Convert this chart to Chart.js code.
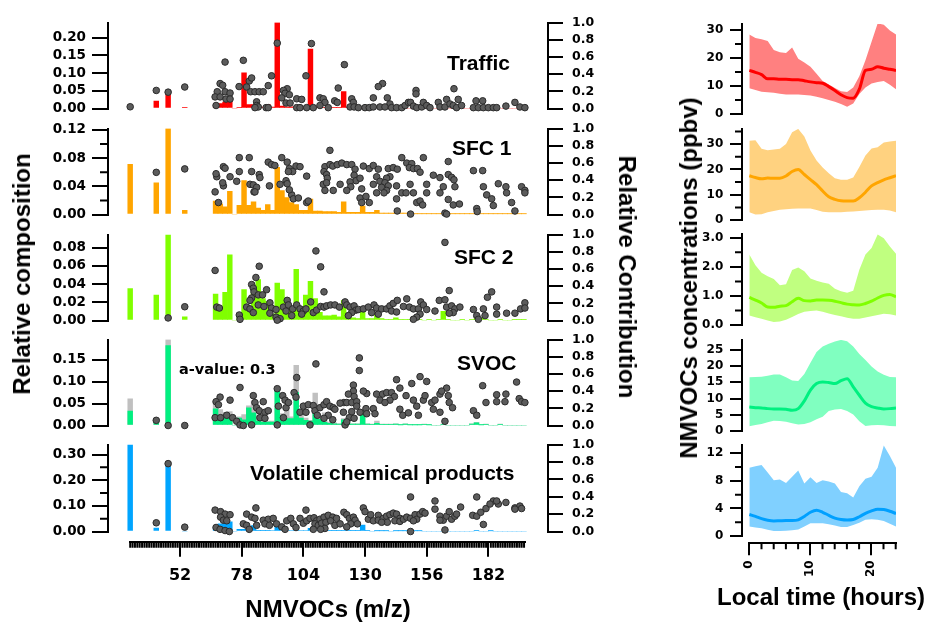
<!DOCTYPE html>
<html>
<head>
<meta charset="utf-8">
<script src="https://cdn.jsdelivr.net/npm/chart.js@4.4.1/dist/chart.umd.min.js"></script>
<style>
  html, body { margin: 0; padding: 0; background: #fff; }
  #wrap { position: relative; width: 925px; height: 623px; overflow: hidden; background: #fff; }
  #wrap canvas { position: absolute; }
  .lbl { position: absolute; font-family: "Liberation Sans", Arial, sans-serif; font-weight: bold;
         color: #000; white-space: nowrap; line-height: 1; }
</style>
</head>
<body>
<div id="wrap"></div>
<script>
// ---------- Source profiles: m/z of the bars and relative composition per source ----------
const barMz = [
  31, 42, 47, 54, 67, 69, 71, 73, 75, 77,
  79, 81, 83, 85, 87, 89, 91, 93, 95, 97,
  99, 101, 103, 105, 107, 109, 111, 113, 115, 117,
  119, 121, 123, 125, 127, 129, 131, 133, 135, 137,
  139, 141, 143, 145, 147, 149, 151, 153, 155, 157,
  159, 161, 163, 165, 167, 169, 171, 173, 175, 177,
  179, 181, 183, 185, 187, 189, 191, 193, 195, 197
];
const trafficComp = [
  0.010, 0.021, 0.043, 0.003, 0.003, 0.014, 0.018, 0.025, 0, 0.002,
  0.101, 0.011, 0.011, 0.005, 0.004, 0.012, 0.004, 0.243, 0.007, 0.005,
  0.005, 0.004, 0.004, 0.003, 0.168, 0.004, 0.003, 0.002, 0.002, 0.002,
  0.002, 0.048, 0.002, 0.001, 0.001, 0.001, 0.001, 0.001, 0.004, 0.003,
  0.001, 0, 0, 0, 0, 0, 0, 0, 0, 0,
  0, 0, 0, 0, 0, 0, 0, 0, 0, 0,
  0, 0, 0, 0, 0, 0, 0, 0, 0, 0
];
const sfc1Comp = [
  0.071, 0.045, 0.122, 0.006, 0.019, 0.015, 0.011, 0.033, 0, 0.013,
  0.048, 0.013, 0.018, 0.009, 0.006, 0.014, 0.006, 0.067, 0.034, 0.024,
  0.017, 0.014, 0.006, 0.006, 0.022, 0.005, 0.005, 0.004, 0.004, 0.004,
  0.003, 0.018, 0.003, 0.003, 0.003, 0.012, 0.003, 0.003, 0.006, 0.002,
  0.002, 0.002, 0.002, 0.002, 0.002, 0.002, 0.001, 0.001, 0.001, 0.001,
  0.001, 0.001, 0.001, 0.001, 0.001, 0.001, 0.001, 0.001, 0.001, 0.001,
  0.001, 0.001, 0.001, 0.001, 0.001, 0.001, 0.001, 0.001, 0.001, 0.001
];
const sfc2Comp = [
  0.035, 0.028, 0.094, 0.004, 0.029, 0.015, 0.031, 0.072, 0, 0.003,
  0.034, 0.012, 0.031, 0.045, 0.024, 0.021, 0.007, 0.041, 0.034, 0.022,
  0.014, 0.056, 0.011, 0.028, 0.043, 0.024, 0.009, 0.005, 0.005, 0.006,
  0.004, 0.022, 0.003, 0.003, 0.002, 0.014, 0.002, 0.002, 0.008, 0.002,
  0.001, 0.001, 0.003, 0.001, 0.001, 0.001, 0, 0.001, 0, 0.001,
  0, 0.001, 0.010, 0.001, 0, 0, 0.001, 0, 0.001, 0.002,
  0.003, 0.001, 0, 0, 0.001, 0, 0, 0.001, 0.001, 0.001
];
const svocComp = [
  0.033, 0.007, 0.182, 0, 0.038, 0.022, 0.022, 0.020, 0, 0.017,
  0.013, 0.040, 0.029, 0.010, 0.008, 0.008, 0.008, 0.082, 0.023, 0.016,
  0.016, 0.075, 0.017, 0.012, 0.010, 0.039, 0.014, 0.007, 0.005, 0.004,
  0.003, 0.013, 0.003, 0.003, 0.003, 0.032, 0.003, 0.002, 0.005, 0.002,
  0.002, 0.002, 0.003, 0.001, 0.003, 0.001, 0.001, 0.001, 0.002, 0.001,
  0, 0, 0.002, 0, 0, 0, 0, 0, 0.003, 0.006,
  0.001, 0.002, 0, 0, 0.002, 0, 0, 0, 0, 0
];
// SVOC profile without the a-value correction (grey, behind)
const svocCompRaw = [
  0.061, 0.010, 0.196, 0, 0.056, 0.036, 0.030, 0.032, 0, 0.020,
  0.025, 0.045, 0.056, 0.022, 0.012, 0.010, 0.010, 0.084, 0.027, 0.034,
  0.020, 0.137, 0.024, 0.017, 0.012, 0.074, 0.020, 0.029, 0.008, 0.006,
  0.004, 0.016, 0.004, 0.004, 0.004, 0.036, 0.004, 0.003, 0.010, 0.003,
  0.003, 0.003, 0.004, 0.002, 0.004, 0.002, 0.002, 0.002, 0.003, 0.002,
  0, 0, 0.003, 0, 0, 0, 0, 0, 0.004, 0.007,
  0.002, 0.003, 0, 0, 0.003, 0, 0, 0, 0, 0
];
const vcpComp = [
  0.338, 0.013, 0.264, 0, 0.015, 0.030, 0.038, 0.038, 0, 0.008,
  0.008, 0.010, 0.023, 0.005, 0.005, 0.005, 0.004, 0.028, 0.004, 0.004,
  0.004, 0.004, 0.004, 0.004, 0.012, 0.004, 0.003, 0.003, 0.003, 0.003,
  0.003, 0.003, 0.003, 0.003, 0.003, 0.025, 0.003, 0, 0.002, 0.002,
  0.002, 0, 0.002, 0.002, 0.002, 0.002, 0.002, 0.002, 0, 0,
  0, 0, 0, 0, 0, 0, 0, 0, 0, 0.003,
  0, 0, 0.002, 0, 0, 0, 0, 0, 0, 0
];

// ---------- Relative contribution of each source to every ion: [m/z, fraction] ----------
const trafficContrib = [
  [31,0.02],[42,0.21],[47,0.19],[54,0.25],[71.0,0.54],[78.7,0.56],[90.6,0.38],[93.0,0.76],[107.4,0.755],[121.3,0.51],
  [105.1,0.38],[137.4,0.29],[135.6,0.255],[151.5,0.21],[151.5,0.17],[167.5,0.23],[68.9,0.29],[70.0,0.27],[67.7,0.195],[71.0,0.195],
  [73.1,0.18],[66.8,0.135],[68.9,0.135],[71.4,0.11],[73.1,0.11],[67.2,0.035],[76.9,0.255],[81.2,0.32],[82.2,0.355],[80.1,0.25],
  [81.8,0.195],[83.6,0.195],[85.4,0.195],[87.1,0.195],[89.2,0.266],[97.2,0.23],[95.6,0.21],[96.3,0.177],[94.9,0.124],[98.1,0.16],
  [84.3,0.078],[84.3,0.035],[85.0,0.018],[83.6,0.01],[88.3,0.01],[89.2,0.01],[96.7,0.064],[98.4,0.064],[101.2,0.113],[103.3,0.106],
  [101.2,0.01],[102.6,0.01],[105.4,0.01],[108.2,0.01],[111.0,0.124],[112.4,0.113],[113.1,0.071],[111.0,0.035],[114.5,0.01],[117.2,0.089],
  [118.7,0.238],[118.3,0.071],[124.4,0.113],[125.1,0.071],[123.7,0.018],[125.4,0.018],[127.2,0.01],[130.0,0.01],[131.8,0.01],[133.5,0.124],
  [133.5,0.018],[136.3,0.018],[139.4,0.124],[140.5,0.053],[138.4,0.018],[141.2,0.01],[143.3,0.01],[145.5,0.01],[146.9,0.035],[148.3,0.071],
  [149.2,0.071],[150.4,0.028],[151.8,0.01],[153.9,0.018],[154.6,0.071],[156.0,0.035],[157.4,0.01],[160.9,0.071],[161.6,0.018],[163.7,0.018],
  [164.4,0.106],[165.8,0.053],[167.2,0.035],[168.6,0.01],[169.3,0.106],[170.7,0.035],[175.7,0.01],[177.8,0.01],[179.9,0.01],[182.0,0.01],
  [184.1,0.01],[185.5,0.01],[176.8,0.089],[179.6,0.089],[189.4,0.028],[193.2,0.071],[195.3,0.018],[197.4,0.01]
];
const sfc1Contrib = [
  [42,0.49],[54,0.53],[115.2,0.746],[77.0,0.661],[81.2,0.661],[94.9,0.661],[89.2,0.609],[97.2,0.609],[145.5,0.661],[154.6,0.661],
  [165.1,0.616],[70.3,0.556],[71.0,0.538],[77.0,0.499],[82.2,0.499],[85.4,0.464],[90.6,0.58],[92.0,0.57],[98.1,0.534],[100.9,0.563],
  [102.6,0.556],[99.5,0.499],[97.7,0.499],[105.4,0.446],[113.1,0.556],[115.2,0.58],[116.4,0.563],[118.3,0.58],[120.2,0.598],[122.3,0.58],
  [124.4,0.58],[125.8,0.527],[112.7,0.499],[113.8,0.464],[114.1,0.422],[125.4,0.457],[126.2,0.393],[127.9,0.422],[129.3,0.563],[131.8,0.534],
  [133.5,0.57],[135.6,0.527],[139.8,0.534],[141.9,0.545],[143.6,0.527],[147.6,0.598],[149.7,0.591],[148.7,0.545],[150.4,0.534],[152.1,0.534],
  [153.2,0.492],[140.5,0.439],[139.1,0.422],[143.3,0.333],[134.9,0.439],[136.3,0.386],[138.4,0.369],[139.8,0.333],[137.0,0.316],[139.1,0.28],
  [133.5,0.351],[67.5,0.439],[73.1,0.439],[85.7,0.429],[75.9,0.386],[81.5,0.351],[82.9,0.344],[84.3,0.316],[83.2,0.263],[89.7,0.333],
  [94.2,0.351],[96.7,0.393],[97.2,0.358],[99.1,0.228],[98.1,0.287],[99.8,0.182],[101.9,0.192],[105.4,0.139],[106.1,0.157],[112.4,0.351],
  [113.8,0.369],[113.1,0.28],[116.6,0.28],[119.5,0.351],[123.7,0.379],[124.0,0.323],[122.3,0.28],[128.6,0.298],[127.9,0.192],[130.4,0.21],
  [131.8,0.139],[128.6,0.139],[134.9,0.252],[138.0,0.252],[143.3,0.182],[145.5,0.252],[147.3,0.252],[149.0,0.351],[150.4,0.252],[151.8,0.139],
  [153.2,0.157],[154.3,0.111],[156.0,0.351],[158.8,0.457],[161.6,0.429],[165.1,0.464],[166.5,0.432],[167.5,0.404],[163.0,0.323],[161.6,0.252],
  [167.9,0.323],[156.0,0.252],[165.1,0.175],[167.2,0.111],[169.8,0.122],[175.7,0.51],[179.6,0.51],[179.9,0.323],[181.3,0.228],[183.4,0.182],
  [184.1,0.104],[186.2,0.358],[189.4,0.323],[189.7,0.252],[191.8,0.139],[196.0,0.323],[197.4,0.28],[197.4,0.252],[143.6,0.041],[149.2,0.005],
  [163.7,0.016],[164.4,0.005],[177.1,0.069],[177.3,0.034],[193.2,0.041],[66.8,0.263],[68.2,0.139],[70.3,0.333],[83.6,0.263],[67.2,0.474],
  [70.0,0.369]
];
const sfc2Contrib = [
  [47,0.03],[54,0.16],[163.7,0.908],[109.3,0.809],[85.4,0.631],[111.3,0.624],[66.8,0.582],[84.0,0.5],[112.7,0.333],[165.5,0.348],
  [183.4,0.333],[181.6,0.27],[67.5,0.156],[68.6,0.145],[82.2,0.418],[82.9,0.376],[83.2,0.333],[85.0,0.298],[82.2,0.262],[81.5,0.234],
  [88.5,0.358],[86.8,0.298],[89.9,0.206],[85.0,0.181],[87.4,0.163],[80.1,0.156],[77.0,0.064],[77.3,0.014],[81.5,0.135],[82.9,0.092],
  [90.6,0.145],[89.9,0.085],[92.5,0.128],[92.5,0.039],[94.2,0.021],[95.6,0.156],[96.7,0.11],[97.2,0.234],[97.7,0.181],[99.5,0.135],
  [99.1,0.057],[101.2,0.181],[102.6,0.135],[104.0,0.11],[105.1,0.135],[107.1,0.216],[103.3,0.074],[108.2,0.092],[109.6,0.121],[111.3,0.163],
  [112.7,0.156],[113.8,0.17],[115.5,0.181],[117.3,0.181],[119.2,0.156],[121.6,0.216],[122.3,0.181],[123.7,0.156],[125.4,0.17],[126.2,0.121],
  [124.4,0.092],[123.0,0.057],[127.2,0.128],[129.3,0.135],[131.4,0.156],[133.8,0.181],[134.9,0.145],[132.8,0.092],[135.6,0.074],[137.0,0.135],
  [139.1,0.135],[140.5,0.17],[141.9,0.199],[143.6,0.234],[141.2,0.11],[143.3,0.099],[146.2,0.163],[147.6,0.252],[148.7,0.156],[150.4,0.135],
  [152.5,0.135],[153.5,0.216],[154.6,0.181],[156.0,0.128],[153.2,0.074],[151.8,0.039],[150.4,0.014],[159.5,0.11],[161.3,0.234],[163.7,0.241],
  [164.4,0.156],[166.5,0.17],[167.9,0.135],[167.2,0.092],[170.0,0.156],[165.5,0.085],[175.7,0.128],[177.1,0.057],[179.9,0.135],[180.6,0.057],
  [177.8,0.014],[185.5,0.156],[185.5,0.074],[189.7,0.085],[193.2,0.085],[195.6,0.135],[197.4,0.206],[197.4,0.145],[93.0,0.004]
];
const svocContrib = [
  [42,0.06],[47,0.0],[54,0.0],[127.6,0.786],[127.6,0.639],[109.3,0.716],[164.4,0.435],[179.6,0.463],[193.9,0.505],[143.3,0.533],
  [153.2,0.568],[149.7,0.488],[156.0,0.512],[144.7,0.435],[147.3,0.347],[134.9,0.365],[137.4,0.365],[139.1,0.382],[141.2,0.382],[142.4,0.337],
  [136.3,0.295],[140.5,0.295],[138.4,0.267],[130.7,0.372],[129.3,0.4],[125.1,0.47],[125.1,0.4],[123.0,0.365],[125.4,0.337],[121.1,0.267],
  [122.3,0.267],[119.5,0.26],[124.4,0.267],[126.5,0.277],[126.5,0.225],[120.9,0.154],[124.4,0.161],[127.9,0.154],[130.4,0.196],[133.5,0.196],
  [134.2,0.137],[130.7,0.137],[123.4,0.091],[125.4,0.084],[144.7,0.189],[145.9,0.119],[148.3,0.147],[152.5,0.119],[151.8,0.225],[150.4,0.295],
  [154.6,0.295],[155.3,0.347],[158.1,0.267],[159.5,0.295],[161.6,0.365],[162.3,0.4],[165.1,0.347],[165.5,0.267],[166.9,0.207],[158.8,0.189],
  [161.6,0.154],[163.7,0.049],[175.7,0.172],[177.1,0.119],[181.0,0.267],[185.5,0.277],[185.5,0.358],[189.0,0.277],[189.4,0.365],[195.0,0.312],
  [196.0,0.277],[197.4,0.267],[77.3,0.442],[68.9,0.33],[67.2,0.277],[68.2,0.242],[73.1,0.295],[66.8,0.091],[69.1,0.091],[71.7,0.119],
  [74.2,0.091],[75.9,0.049],[77.3,0.007],[78.7,0.0],[82.2,0.007],[82.9,0.347],[83.6,0.267],[84.3,0.207],[85.4,0.172],[87.1,0.277],
  [87.8,0.154],[89.2,0.172],[85.7,0.091],[87.8,0.084],[93.0,0.428],[95.3,0.347],[93.5,0.225],[96.3,0.295],[96.7,0.207],[97.7,0.267],
  [95.6,0.091],[100.1,0.382],[100.9,0.33],[101.2,0.558],[102.6,0.154],[104.0,0.225],[105.1,0.154],[106.1,0.242],[108.2,0.232],[108.9,0.172],
  [109.9,0.119],[111.0,0.207],[112.7,0.242],[113.8,0.277],[115.2,0.225],[116.6,0.207],[114.5,0.119],[112.7,0.084],[116.4,0.067],[117.3,0.189],
  [93.0,0.007],[106.8,0.007],[121.6,0.007],[122.3,0.042]
];
const vcpContrib = [
  [42,0.10],[47,0.78],[54,0.05],[149.2,0.397],[177.1,0.397],[159.5,0.351],[184.1,0.351],[186.2,0.316],[189.4,0.334],[193.2,0.271],
  [195.3,0.292],[196.0,0.264],[84.0,0.271],[66.8,0.246],[69.1,0.228],[71.0,0.2],[69.1,0.165],[73.1,0.193],[70.3,0.13],[71.7,0.123],
  [67.2,0.046],[68.9,0.025],[71.0,0.011],[72.8,0.0],[80.1,0.2],[82.2,0.165],[83.6,0.151],[78.7,0.088],[80.1,0.071],[84.3,0.071],
  [81.2,0.025],[87.1,0.13],[89.2,0.141],[91.3,0.151],[87.8,0.088],[89.7,0.071],[92.7,0.088],[94.9,0.053],[97.0,0.123],[98.7,0.151],
  [96.3,0.025],[99.8,0.088],[100.9,0.046],[102.6,0.151],[105.1,0.246],[104.0,0.095],[105.4,0.123],[106.8,0.151],[108.5,0.158],[109.6,0.123],
  [111.0,0.141],[112.7,0.165],[114.5,0.186],[116.4,0.165],[118.0,0.151],[108.9,0.088],[110.3,0.071],[111.7,0.095],[113.5,0.106],[115.5,0.123],
  [117.3,0.071],[113.1,0.035],[111.3,0.025],[108.2,0.025],[119.5,0.088],[121.1,0.221],[122.3,0.193],[123.4,0.151],[125.1,0.165],[125.8,0.13],
  [124.0,0.088],[122.3,0.053],[126.8,0.088],[129.3,0.271],[130.0,0.228],[131.4,0.141],[133.5,0.123],[132.4,0.193],[135.6,0.186],[135.6,0.13],
  [137.7,0.151],[139.1,0.176],[140.5,0.193],[141.9,0.211],[143.3,0.2],[144.7,0.151],[142.6,0.123],[139.4,0.106],[137.0,0.106],[144.7,0.116],
  [146.2,0.141],[147.6,0.165],[149.2,0.151],[151.1,0.193],[151.8,0.141],[153.2,0.2],[154.3,0.228],[155.3,0.211],[150.4,0.123],[159.5,0.257],
  [161.6,0.176],[163.0,0.13],[164.4,0.176],[165.5,0.228],[166.5,0.141],[167.9,0.176],[168.6,0.2],[170.3,0.281],[161.6,0.13],[163.7,0.018],
  [175.4,0.186],[177.1,0.176],[178.8,0.221],[179.9,0.081],[181.0,0.264],[182.7,0.316],[185.5,0.351],[193.2,0.257],[149.2,0.0]
];

// ---------- Axis ticks ----------
const trafficTicks = [0, 0.05, 0.10, 0.15, 0.20];
const sfc1Ticks = [0, 0.04, 0.08, 0.12];
const sfc1MinorTicks = [0.02, 0.06, 0.10];
const sfc2Ticks = [0, 0.02, 0.04, 0.06, 0.08];
const svocTicks = [0, 0.05, 0.10, 0.15];
const vcpTicks = [0, 0.10, 0.20, 0.30];
const vcpMinorTicks = [0.05, 0.15, 0.25];
const contribTicks = [0, 0.2, 0.4, 0.6, 0.8, 1.0];
const mzTicks = [52, 78, 104, 130, 156, 182];

// ---------- Diurnal profiles (ppbv): mean and shaded range ----------
const hours = [0, 1, 2, 3, 4, 5, 6, 7, 8, 9, 10, 11, 12, 13, 14, 15, 16, 17, 18, 19, 20, 21, 22, 23, 24];
const trafficMean  = [15.6, 14.9, 14.1, 12.6, 12.6, 12.4, 12.4, 12.3, 12.3, 11.9, 11.5, 11.2, 11.0, 9.8, 8.4, 6.9, 5.9, 5.7, 8.9, 15.6, 16.0, 16.9, 16.4, 16.0, 15.6];
const trafficUpper = [28.4, 27.2, 26.7, 26.1, 22.9, 22.1, 21.8, 23.8, 19.8, 18.4, 16.9, 14.4, 11.8, 10.6, 9.3, 8.2, 7.9, 9.5, 13.5, 19.2, 25.8, 32.4, 31.9, 29.8, 28.4];
const trafficLower = [9.2, 8.6, 8.0, 7.8, 7.6, 7.3, 7.0, 7.0, 7.0, 6.8, 6.6, 6.2, 5.7, 5.0, 4.4, 3.6, 2.6, 3.8, 7.2, 9.5, 10.9, 11.5, 11.8, 10.5, 8.9];
const sfc1Mean  = [17.5, 16.8, 16.3, 16.6, 16.5, 16.5, 17.4, 19.2, 20.0, 18.0, 16.0, 14.0, 11.5, 9.2, 8.2, 7.6, 7.5, 7.5, 8.8, 11.0, 13.5, 14.8, 15.9, 16.7, 17.5];
const sfc1Upper = [31.3, 31.5, 28.2, 27.6, 27.9, 28.2, 30.0, 34.7, 36.0, 33.0, 27.5, 23.5, 20.8, 18.5, 16.5, 15.9, 15.9, 16.8, 21.0, 25.5, 28.3, 28.8, 30.6, 31.0, 31.3];
const sfc1Lower = [3.1, 2.2, 2.3, 3.1, 3.6, 4.1, 4.3, 4.5, 4.6, 4.6, 4.6, 4.0, 3.3, 3.1, 3.1, 3.1, 3.3, 3.4, 3.6, 3.8, 4.0, 4.1, 4.1, 3.8, 3.1];
const sfc2Mean  = [0.95, 0.86, 0.76, 0.62, 0.61, 0.65, 0.67, 0.80, 0.92, 0.84, 0.83, 0.86, 0.86, 0.85, 0.82, 0.77, 0.72, 0.70, 0.69, 0.74, 0.82, 0.93, 1.02, 1.05, 0.97];
const sfc2Upper = [2.42, 2.05, 1.80, 1.68, 1.58, 1.37, 1.40, 1.89, 1.98, 1.85, 1.60, 1.52, 1.46, 1.42, 1.25, 1.16, 1.11, 1.18, 1.90, 2.42, 2.65, 3.11, 2.98, 2.70, 2.45];
const sfc2Lower = [0.33, 0.27, 0.22, 0.16, 0.11, 0.12, 0.18, 0.28, 0.38, 0.46, 0.48, 0.50, 0.46, 0.40, 0.35, 0.30, 0.25, 0.22, 0.22, 0.26, 0.30, 0.35, 0.39, 0.37, 0.33];
const svocMean  = [7.4, 7.2, 7.1, 6.9, 6.8, 6.8, 6.7, 6.4, 6.9, 9.3, 12.6, 14.6, 15.1, 14.9, 14.6, 15.5, 16.1, 13.6, 11.0, 8.6, 7.5, 7.1, 6.8, 6.9, 7.1];
const svocUpper = [16.5, 16.6, 16.7, 17.0, 17.4, 17.4, 16.5, 15.5, 15.4, 17.5, 21.0, 24.3, 26.0, 26.8, 27.5, 28.0, 27.6, 26.0, 23.7, 21.8, 19.8, 18.3, 17.3, 16.6, 16.5];
const svocLower = [1.5, 1.9, 2.2, 2.7, 3.2, 3.1, 2.9, 2.4, 2.0, 2.2, 2.7, 3.6, 4.4, 6.2, 6.6, 6.8, 6.2, 5.1, 3.0, 1.6, 1.8, 1.9, 1.8, 1.6, 1.5];
const vcpMean  = [3.13, 2.85, 2.52, 2.30, 2.19, 2.22, 2.25, 2.25, 2.35, 2.85, 3.45, 3.75, 3.45, 3.00, 2.60, 2.40, 2.33, 2.40, 2.80, 3.30, 3.65, 3.90, 3.85, 3.60, 3.27];
const vcpUpper = [9.9, 10.1, 10.3, 9.2, 8.1, 8.2, 7.7, 8.6, 9.5, 7.6, 8.5, 7.7, 8.1, 7.9, 7.6, 6.4, 6.2, 5.6, 7.2, 8.3, 8.6, 9.9, 13.1, 11.6, 9.9];
const vcpLower = [1.40, 1.25, 1.12, 0.92, 0.74, 0.75, 0.79, 0.85, 0.95, 1.40, 1.85, 1.87, 1.87, 1.70, 1.55, 1.30, 1.30, 1.60, 1.95, 2.35, 2.45, 2.38, 2.20, 1.80, 1.40];

const trafficConcTicks = [0, 10, 20, 30];
const trafficConcMinor = [5, 15, 25];
const sfc1ConcTicks = [0, 10, 20, 30];
const sfc1ConcMinor = [5, 15, 25, 35];
const sfc2ConcTicks = [0, 1, 2, 3];
const sfc2ConcMinor = [0.5, 1.5, 2.5];
const svocConcTicks = [0, 5, 10, 15, 20, 25];
const vcpConcTicks = [0, 4, 8, 12];
const vcpConcMinor = [2, 6, 10];
const hourTicks = [0, 10, 20];
const hourMinorTicks = [2, 4, 6, 8, 12, 14, 16, 18, 22, 24];

// ---------- Drawing ----------
const wrap = document.getElementById('wrap');
const tickFont = (size) => ({ family: 'DejaVu Sans', size: size, weight: 'bold' });

// short, unlabelled ticks next to the library's own labelled ticks
const minorTicksPlugin = {
  id: 'minorTicks',
  afterDraw(chart, args, opts) {
    const items = (opts && opts.items) || [];
    const ctx = chart.ctx;
    items.forEach(it => {
      const s = chart.scales[it.scale];
      ctx.save();
      ctx.strokeStyle = '#000';
      ctx.lineWidth = 2;
      ctx.beginPath();
      it.values.forEach(v => {
        const p = s.getPixelForValue(v);
        if (it.side === 'left') { ctx.moveTo(s.right, p); ctx.lineTo(s.right - it.length, p); }
        else if (it.side === 'right') { ctx.moveTo(s.left, p); ctx.lineTo(s.left + it.length, p); }
        else { ctx.moveTo(p, s.top); ctx.lineTo(p, s.top + it.length); }
      });
      ctx.stroke();
      ctx.restore();
    });
  }
};
Chart.register(minorTicksPlugin);

function makeCanvas(left, top, width, height) {
  const c = document.createElement('canvas');
  c.width = width; c.height = height;
  c.style.left = left + 'px'; c.style.top = top + 'px';
  c.style.width = width + 'px'; c.style.height = height + 'px';
  wrap.appendChild(c);
  return c;
}

function fixedTicks(values) {
  return (scale) => { scale.ticks = values.map(v => ({ value: v })); };
}

function axisStyle(tickLength) {
  return {
    grid: { display: true, drawOnChartArea: false, drawTicks: true, tickLength: tickLength,
            tickWidth: 2, tickColor: '#000', color: '#000', lineWidth: 2 },
    border: { display: true, color: '#000', width: 2 }
  };
}

const baseOptions = {
  responsive: false, animation: false, devicePixelRatio: 1,
  events: []
};

// Left column: composition bars (left axis) + contribution dots (right axis)
const LEFT_W = 610, LEFT_AXIS_X = 108, RIGHT_AXIS_X = 548;
const MZ_MIN = 21.646, MZ_MAX = 207.143;

function profilePanel(p) {
  const top = Math.floor(p.top) - 12;
  const bottom = Math.ceil(p.bottom) + 12;
  const canvas = makeCanvas(0, top, LEFT_W, bottom - top);
  const datasets = [{
    type: 'scatter',
    data: p.contrib.map(d => ({ x: d[0], y: d[1] })),
    yAxisID: 'y2', order: 0,
    backgroundColor: '#5c5c5c', borderColor: '#2b2b2b', borderWidth: 1,
    pointRadius: 3.3, clip: false
  }];
  p.bars.forEach((b, i) => datasets.push({
    type: 'bar',
    data: barMz.map((m, j) => ({ x: m, y: b.values[j] })),
    yAxisID: 'y', order: 1 + i,
    backgroundColor: b.color, borderWidth: 0,
    barThickness: 4.8, grouped: false
  }));
  const minor = p.minor ? [{ scale: 'y', side: 'left', length: 8, values: p.minor }] : [];
  new Chart(canvas, {
    type: 'bar',
    data: { datasets },
    options: Object.assign({}, baseOptions, {
      layout: { padding: { top: p.top - top, bottom: bottom - p.bottom, left: 0, right: 0 } },
      plugins: { legend: { display: false }, tooltip: { enabled: false }, minorTicks: { items: minor } },
      scales: {
        x: { type: 'linear', min: MZ_MIN, max: MZ_MAX, display: false, offset: false },
        y: Object.assign({
          type: 'linear', position: 'left', min: 0, max: p.max,
          afterFit: s => { s.width = LEFT_AXIS_X; },
          afterBuildTicks: fixedTicks(p.ticks),
          ticks: { autoSkip: false, padding: 6, color: '#000', font: tickFont(13.5), callback: v => v.toFixed(2) }
        }, axisStyle(16)),
        y2: Object.assign({
          type: 'linear', position: 'right', min: 0, max: 1,
          afterFit: s => { s.width = LEFT_W - RIGHT_AXIS_X; },
          afterBuildTicks: fixedTicks(contribTicks),
          ticks: { autoSkip: false, padding: 9, color: '#000', font: tickFont(12.5), callback: v => v.toFixed(1) }
        }, axisStyle(15))
      }
    })
  });
}

profilePanel({ top: 18, bottom: 112.3, max: 0.243, ticks: trafficTicks, contrib: trafficContrib,
               bars: [{ values: trafficComp, color: '#ff0000' }] });
profilePanel({ top: 124, bottom: 218.6, max: 0.122, ticks: sfc1Ticks, minor: sfc1MinorTicks, contrib: sfc1Contrib,
               bars: [{ values: sfc1Comp, color: '#ffa500' }] });
profilePanel({ top: 230, bottom: 324.3, max: 0.0943, ticks: sfc2Ticks, contrib: sfc2Contrib,
               bars: [{ values: sfc2Comp, color: '#80ff00' }] });
profilePanel({ top: 335, bottom: 430, max: 0.196, ticks: svocTicks, contrib: svocContrib,
               bars: [{ values: svocComp, color: '#00f080' }, { values: svocCompRaw, color: '#c0c0c0' }] });
profilePanel({ top: 440.7, bottom: 535.7, max: 0.339, ticks: vcpTicks, minor: vcpMinorTicks, contrib: vcpContrib,
               bars: [{ values: vcpComp, color: '#00a5ff' }] });

// shared m/z axis below the left column
(function () {
  const top = 520, height = 103;
  const mzMinor = [];
  for (let m = 31; m <= 197; m++) if (mzTicks.indexOf(m) < 0) mzMinor.push(m);
  new Chart(makeCanvas(0, top, LEFT_W, height), {
    type: 'scatter',
    data: { datasets: [] },
    options: Object.assign({}, baseOptions, {
      layout: { padding: { top: 5, bottom: 0, left: 130.2, right: LEFT_W - 525 } },
      plugins: { legend: { display: false }, tooltip: { enabled: false },
                 minorTicks: { items: [{ scale: 'x', side: 'bottom', length: 6, values: mzMinor }] } },
      scales: {
        x: Object.assign({
          type: 'linear', position: 'bottom', min: 31, max: 197.4,
          afterFit: s => { s.height = height - (541.7 - top); },
          afterBuildTicks: fixedTicks(mzTicks),
          ticks: { autoSkip: false, maxRotation: 0, padding: 10, color: '#000', font: tickFont(16), callback: v => String(v) }
        }, axisStyle(15)),
        y: { display: false, min: 0, max: 1 }
      }
    })
  });
})();

// Right column: diurnal cycles
const R_LEFT = 640, R_W = 270, R_AXIS_X = 741.7, R_RIGHT = 896;

function diurnalPanel(p) {
  const top = Math.floor(p.top) - 12;
  const bottom = Math.ceil(p.bottom) + 12;
  const canvas = makeCanvas(R_LEFT, top, R_W, bottom - top);
  const pts = arr => hours.map((h, i) => ({ x: h, y: arr[i] }));
  const clear = 'rgba(0,0,0,0)';
  const minor = p.minor ? [{ scale: 'y', side: 'left', length: 6.7, values: p.minor }] : [];
  new Chart(canvas, {
    type: 'line',
    data: { datasets: [
      { data: pts(p.mean), borderColor: p.line, borderWidth: 3, pointRadius: 0, fill: false,
        cubicInterpolationMode: 'monotone', order: 0 },
      { data: pts(p.upper), borderColor: clear, borderWidth: 1, pointRadius: 0,
        backgroundColor: p.band, fill: '+1', order: 1 },
      { data: pts(p.lower), borderColor: clear, borderWidth: 1, pointRadius: 0, fill: false, order: 2 }
    ] },
    options: Object.assign({}, baseOptions, {
      layout: { padding: { top: p.top - top, bottom: bottom - p.bottom, left: 0, right: R_LEFT + R_W - R_RIGHT } },
      plugins: { legend: { display: false }, tooltip: { enabled: false }, minorTicks: { items: minor } },
      scales: {
        x: { type: 'linear', min: -1.25, max: 24, display: false },
        y: Object.assign({
          type: 'linear', position: 'left', min: 0, max: p.max,
          afterFit: s => { s.width = R_AXIS_X - R_LEFT; },
          afterBuildTicks: fixedTicks(p.ticks),
          ticks: { autoSkip: false, padding: 6.7, color: '#000', font: tickFont(12),
                   callback: v => p.decimals ? v.toFixed(p.decimals) : String(v) }
        }, axisStyle(11.7))
      }
    })
  });
}

diurnalPanel({ top: 22.3, bottom: 116, max: 32.2, ticks: trafficConcTicks, minor: trafficConcMinor,
               mean: trafficMean, upper: trafficUpper, lower: trafficLower, line: '#ff0000', band: '#ff8080' });
diurnalPanel({ top: 127.7, bottom: 221.3, max: 36.0, ticks: sfc1ConcTicks, minor: sfc1ConcMinor,
               mean: sfc1Mean, upper: sfc1Upper, lower: sfc1Lower, line: '#ffa500', band: '#ffd280' });
diurnalPanel({ top: 232.7, bottom: 326.7, max: 3.13, ticks: sfc2ConcTicks, minor: sfc2ConcMinor, decimals: 1,
               mean: sfc2Mean, upper: sfc2Upper, lower: sfc2Lower, line: '#80ff00', band: '#c0ff80' });
diurnalPanel({ top: 338.3, bottom: 432.3, max: 28.0, ticks: svocConcTicks,
               mean: svocMean, upper: svocUpper, lower: svocLower, line: '#00f080', band: '#80ffc0' });
diurnalPanel({ top: 443.3, bottom: 537.3, max: 13.2, ticks: vcpConcTicks, minor: vcpConcMinor,
               mean: vcpMean, upper: vcpUpper, lower: vcpLower, line: '#00a0ff', band: '#80d0ff' });

// local-time axis below the right column
(function () {
  const top = 523, height = 100;
  new Chart(makeCanvas(R_LEFT, top, R_W, height), {
    type: 'line',
    data: { datasets: [] },
    options: Object.assign({}, baseOptions, {
      layout: { padding: { top: 5, bottom: 0, left: 749.3 - R_LEFT, right: R_LEFT + R_W - 895.7 } },
      plugins: { legend: { display: false }, tooltip: { enabled: false },
                 minorTicks: { items: [{ scale: 'x', side: 'bottom', length: 6, values: hourMinorTicks }] } },
      scales: {
        x: Object.assign({
          type: 'linear', position: 'bottom', min: 0, max: 24,
          afterFit: s => { s.height = height - (543.3 - top); },
          afterBuildTicks: fixedTicks(hourTicks),
          ticks: { autoSkip: false, minRotation: 90, maxRotation: 90, padding: 5, color: '#000',
                   font: tickFont(12), callback: v => String(v) }
        }, axisStyle(12)),
        y: { display: false, min: 0, max: 1 }
      }
    })
  });
})();

// ---------- Text ----------
function label(text, cx, cy, size, opts) {
  const d = document.createElement('div');
  d.className = 'lbl';
  d.textContent = text;
  d.style.fontSize = size + 'px';
  if (opts && opts.family) d.style.fontFamily = opts.family;
  const rot = opts && opts.rotate ? ' rotate(' + opts.rotate + 'deg)' : '';
  d.style.left = cx + 'px'; d.style.top = cy + 'px';
  d.style.transform = (opts && opts.anchorLeft) ? 'translateY(-50%)' : 'translate(-50%,-50%)' + rot;
  wrap.appendChild(d);
}

label('Traffic', 447, 62, 21, { anchorLeft: true });
label('SFC 1', 452, 146.7, 21, { anchorLeft: true });
label('SFC 2', 454, 255.5, 21, { anchorLeft: true });
label('SVOC', 457, 362, 21, { anchorLeft: true });
label('Volatile chemical products', 250, 471.7, 21, { anchorLeft: true });
label('a-value: 0.3', 179, 369, 14.5, { anchorLeft: true, family: '"DejaVu Sans", sans-serif' });

label('Relative composition', 22, 274, 24, { rotate: -90 });
label('Relative Contribution', 627, 277, 24, { rotate: 90 });
label('NMVOCs (m/z)', 328, 609, 24);
label('NMVOCs concentrations (ppbv)', 689, 278, 24, { rotate: -90 });
label('Local time (hours)', 821, 597, 24);
</script>
</body>
</html>
